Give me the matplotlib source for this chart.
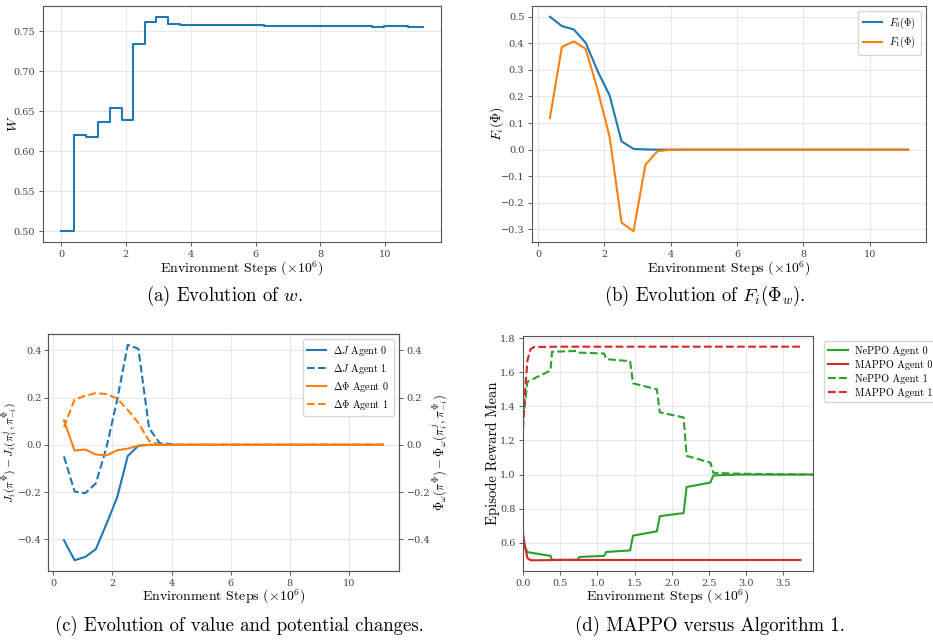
# -*- coding: utf-8 -*-
"""Four panels: w, F_i, value/potential changes, MAPPO vs NePPO."""
import numpy as np
import matplotlib.pyplot as plt

plt.rcParams["font.family"] = ["DejaVu Serif"]
plt.rcParams["mathtext.fontset"] = "cm"
plt.rcParams["axes.edgecolor"] = "#555555"
plt.rcParams["xtick.color"] = "#444444"
plt.rcParams["ytick.color"] = "#444444"
plt.rcParams["xtick.labelsize"] = 7
plt.rcParams["ytick.labelsize"] = 7

LAB = dict(family=["cmr10"], fontsize=10)
LEG = dict(family=["cmr10"], size=7.3)

# ── (a) w, drawn as steps ─────────────────────────────
steps_w = [0.0, 0.39, 0.76, 1.13, 1.50, 1.87, 2.22, 2.58, 2.94, 3.31, 3.68,
           4.05, 4.42, 4.79, 5.16, 5.53, 5.90, 6.27, 6.64, 7.01, 7.38, 7.75,
           8.12, 8.49, 8.86, 9.23, 9.60, 9.97, 10.34, 10.71, 11.16]
w_vals = [0.500, 0.620, 0.618, 0.636, 0.654, 0.639, 0.734, 0.762, 0.768, 0.759,
          0.7580, 0.7575, 0.7576, 0.7576, 0.7575, 0.7574, 0.7573, 0.7568, 0.7567,
          0.7566, 0.7566, 0.7560, 0.7561, 0.7561, 0.7561, 0.7560, 0.7555, 0.7558,
          0.7558, 0.7554, 0.7557]

# ── shared sample points for (b) and (c) ──────────────
steps = [0.36 * k for k in range(1, 32)]
n_tail = 31 - 11

F0 = [0.500, 0.465, 0.452, 0.402, 0.295, 0.204, 0.031, 0.003, 0.001, 0.0, 0.0] + [0.0] * n_tail
F1 = [0.119, 0.386, 0.407, 0.379, 0.225, 0.048, -0.274, -0.307, -0.057, -0.006, -0.001] + [0.0] * n_tail

dJ0 = [-0.404, -0.489, -0.475, -0.442, -0.335, -0.223, -0.047, -0.004, 0.0, 0.0, 0.0] + [0.0] * n_tail
dJ1 = [-0.049, -0.198, -0.205, -0.163, -0.010, 0.190, 0.424, 0.407, 0.071, 0.007, 0.003] + [0.0] * n_tail
dP0 = [0.103, -0.024, -0.020, -0.041, -0.045, -0.023, -0.016, -0.003, 0.0, 0.0, 0.0] + [0.0] * n_tail
dP1 = [0.075, 0.192, 0.208, 0.219, 0.215, 0.196, 0.148, 0.092, 0.017, 0.001, 0.0] + [0.0] * n_tail

# ── (d) episode reward mean ───────────────────────────
nep_x = [0.0, 0.06, 0.37, 0.39, 0.73, 0.76, 1.09, 1.12, 1.44, 1.48, 1.80,
         1.84, 2.16, 2.20, 2.52, 2.56, 2.90, 3.90]
nep0 = [0.60, 0.545, 0.523, 0.500, 0.500, 0.517, 0.523, 0.546, 0.555, 0.642,
        0.667, 0.756, 0.774, 0.927, 0.953, 0.995, 1.000, 1.000]
nep1 = [1.32, 1.545, 1.610, 1.720, 1.725, 1.715, 1.710, 1.677, 1.665, 1.535,
        1.500, 1.365, 1.335, 1.110, 1.070, 1.010, 1.005, 1.000]
map_x = [0.0, 0.03, 0.06, 0.10, 0.15, 0.50, 1.00, 2.00, 3.00, 3.73]
map0 = [0.655, 0.570, 0.510, 0.498, 0.497, 0.499, 0.499, 0.499, 0.499, 0.499]
map1 = [1.27, 1.50, 1.67, 1.735, 1.748, 1.750, 1.750, 1.750, 1.750, 1.750]

BLUE, ORANGE, GREEN, RED = "#1f77b4", "#ff7f0e", "#2ca02c", "#d62728"
XLAB = r"Environment Steps ($\times 10^6$)"

W, H = 933, 642


def rect(l, t, r, b):
    return [l / W, (H - b) / H, (r - l) / W, (b - t) / H]


def style(ax):
    ax.grid(True, color="#e8e8e8", linewidth=0.8)
    ax.set_axisbelow(True)
    ax.tick_params(length=3, width=0.6, pad=2.5)


def legend(ax, **kw):
    return ax.legend(prop=LEG, handlelength=1.9, borderpad=0.45,
                     labelspacing=0.4, handletextpad=0.7, **kw)


def labels(ax, ylab, xy, yx, ysize=10):
    # label centres placed in axes coordinates
    ax.set_xlabel(XLAB, **LAB)
    ax.xaxis.set_label_coords(0.5, xy)
    ax.set_ylabel(ylab, family=["cmr10"], fontsize=ysize)
    ax.yaxis.set_label_coords(yx, 0.5)
    ax.xaxis.label.set_va("center")
    ax.yaxis.label.set_va("center")


fig = plt.figure(figsize=(W / 100, H / 100), dpi=100)

# (a)
ax = fig.add_axes(rect(43, 6, 441, 242))
ax.step(steps_w, w_vals, where="post", color=BLUE, lw=1.5)
ax.set_xticks([0, 2, 4, 6, 8, 10])
labels(ax, r"$W$", -0.115, -0.075)
style(ax)

# (b)
ax = fig.add_axes(rect(532, 6, 926, 242))
ax.plot(steps, F0, color=BLUE, lw=1.5, label=r"$F_0(\Phi)$")
ax.plot(steps, F1, color=ORANGE, lw=1.5, label=r"$F_1(\Phi)$")
ax.set_xticks([0, 2, 4, 6, 8, 10])
labels(ax, r"$F_i(\Phi)$", -0.115, -0.089)
legend(ax, loc="upper right")
style(ax)

# (c)
ax = fig.add_axes(rect(48, 334, 399, 571))
l1, = ax.plot(steps, dJ0, color=BLUE, lw=1.5, label=r"$\Delta J$ Agent 0")
l2, = ax.plot(steps, dJ1, color=BLUE, lw=1.5, ls="--", label=r"$\Delta J$ Agent 1")
ax.set_xticks([0, 2, 4, 6, 8, 10])
labels(ax, r"$J_i(\pi^{\Phi}) - J_i(\pi_i^{j}, \pi_{-i}^{\Phi})$", -0.11, -0.108, ysize=8.5)
ax.tick_params(axis="y", pad=1.5)
style(ax)
ax.tick_params(axis="y", pad=1.5)
ax2 = ax.twinx()
l3, = ax2.plot(steps, dP0, color=ORANGE, lw=1.5, label=r"$\Delta\Phi$ Agent 0")
l4, = ax2.plot(steps, dP1, color=ORANGE, lw=1.5, ls="--", label=r"$\Delta\Phi$ Agent 1")
ax2.set_ylim(ax.get_ylim())
ax2.set_ylabel(r"$\Phi_{\omega}(\pi^{\Phi}) - \Phi_{\omega}(\pi_i^{j}, \pi_{-i}^{\Phi})$",
               family=["cmr10"], fontsize=9)
ax2.yaxis.set_label_coords(1.115, 0.5)
ax2.yaxis.label.set_va("center")
ax2.tick_params(length=3, width=0.6, pad=2.5)
legend(ax2, handles=[l1, l2, l3, l4], loc="upper right")

# (d)
ax = fig.add_axes(rect(523, 336, 813, 571))
ax.plot(nep_x, nep0, color=GREEN, lw=1.5, label="NePPO Agent 0")
ax.plot(map_x, map0, color=RED, lw=1.5, label="MAPPO Agent 0")
ax.plot(nep_x, nep1, color=GREEN, lw=1.5, ls="--", label="NePPO Agent 1")
ax.plot(map_x, map1, color=RED, lw=1.5, ls="--", label="MAPPO Agent 1")
ax.set_xlim(0, 3.9)
labels(ax, "Episode Reward Mean", -0.11, -0.105, ysize=10.5)
legend(ax, loc="upper left", bbox_to_anchor=(1.02, 1.0))
style(ax)

# captions
cap = dict(ha="center", va="center", fontsize=13.5, family=["cmr10"])
fig.text(224 / W, 1 - 296 / H, r"(a) Evolution of $w$.", **cap)
fig.text(705 / W, 1 - 296 / H, r"(b) Evolution of $F_i(\Phi_w)$.", **cap)
fig.text(239 / W, 1 - 626 / H, r"(c) Evolution of value and potential changes.", **cap)
fig.text(710 / W, 1 - 626 / H, r"(d) MAPPO versus Algorithm 1.", **cap)

fig.savefig("out.png", dpi=100)
